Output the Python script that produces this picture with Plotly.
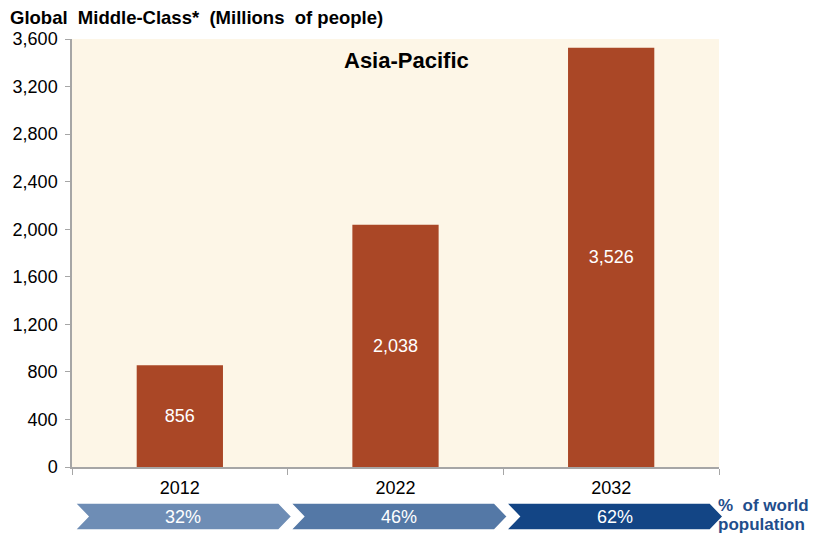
import plotly.graph_objects as go

years = ["2012", "2022", "2032"]
middle_class = [856, 2038, 3526]
pct_world = ["32%", "46%", "62%"]
chevron_colors = ["#6E8DB5", "#5478A6", "#134585"]
y_ticks = [0, 400, 800, 1200, 1600, 2000, 2400, 2800, 3200, 3600]

W, H = 822, 536
ML, MR, MT, MB = 72, 103, 39, 69
pw = W - ML - MR
ph = H - MT - MB

fig = go.Figure()
fig.add_trace(go.Bar(
    x=years, y=middle_class,
    marker=dict(color="#AA4726", line=dict(width=0)),
    width=0.4,
    text=[f"{v:,}" for v in middle_class],
    textposition="inside", insidetextanchor="middle",
    textfont=dict(color="white", size=18, family="Liberation Sans"),
    hoverinfo="skip",
))

def px2x(p):
    return (p - ML) / pw

def py2y(p):
    return (H - MB - p) / ph

shapes = []
annotations = []
n = len(years)
top, bot = 503, 530
mid = (top + bot) / 2
d = 13
for i in range(n):
    b0 = ML + pw * i / n
    b1 = ML + pw * (i + 1) / n
    L = b0 + 3
    R = b1 - 9
    pts = [(L, top), (R, top), (R + d, mid), (R, bot), (L, bot), (L + d, mid)]
    path = "M " + " L ".join(f"{px2x(x):.5f},{py2y(y):.5f}" for x, y in pts) + " Z"
    shapes.append(dict(type="path", xref="paper", yref="paper", path=path,
                       fillcolor=chevron_colors[i], line=dict(color="white", width=1.5),
                       layer="above"))
    annotations.append(dict(x=px2x((L + R + d) / 2), y=py2y(mid), xref="paper", yref="paper",
                            text=pct_world[i], showarrow=False,
                            font=dict(color="white", size=18, family="Liberation Sans"),
                            xanchor="center", yanchor="middle"))

for txt, yy in [("<b>%  of world</b>", 505), ("<b>population</b>", 524)]:
    annotations.append(dict(x=px2x(716), y=py2y(yy), xref="paper", yref="paper",
                            text=txt, showarrow=False, align="left",
                            font=dict(color="#1F4E8C", size=17, family="Liberation Sans"),
                            xanchor="left", yanchor="middle"))
annotations.append(dict(x=px2x(406), y=py2y(60), xref="paper", yref="paper",
                        text="<b>Asia-Pacific</b>", showarrow=False,
                        font=dict(color="black", size=22, family="Liberation Sans"),
                        xanchor="center", yanchor="middle"))
annotations.append(dict(x=px2x(8), y=py2y(18), xref="paper", yref="paper",
                        text="<b>Global  Middle-Class*  (Millions  of people)</b>", showarrow=False,
                        font=dict(color="black", size=18.5, family="Liberation Sans"),
                        xanchor="left", yanchor="middle"))

fig.update_layout(
    width=W, height=H,
    margin=dict(l=ML, r=MR, t=MT, b=MB),
    paper_bgcolor="white", plot_bgcolor="#FDF6E7",
    showlegend=False,
    font=dict(family="Liberation Sans", size=18, color="black"),
    shapes=shapes, annotations=annotations,
    xaxis=dict(showline=True, linecolor="#A6A6A6", linewidth=1.5,
               ticks="outside", tickson="boundaries", ticklen=6, tickcolor="#A6A6A6",
               ticklabelstandoff=4,
               tickfont=dict(size=18), showgrid=False, range=[-0.5, 2.5]),
    yaxis=dict(range=[0, 3600], tickvals=y_ticks, tickformat=",",
               showline=True, linecolor="#A6A6A6", linewidth=1.5,
               ticks="outside", ticklen=5, tickcolor="#A6A6A6",
               ticklabelstandoff=4,
               showgrid=False, zeroline=False, tickfont=dict(size=18)),
)

fig.write_html("out.html")
